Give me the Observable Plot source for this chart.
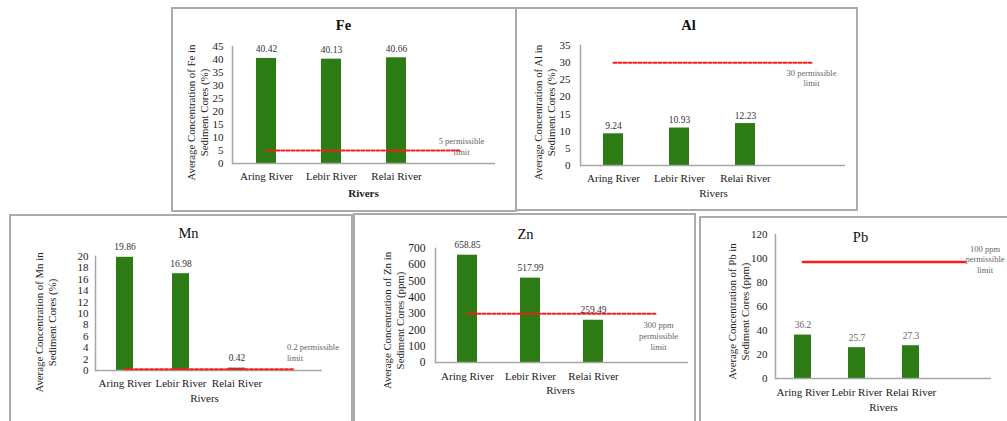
<!DOCTYPE html>
<html><head><meta charset="utf-8">
<script src="https://cdn.jsdelivr.net/npm/d3@7"></script>
<script src="https://cdn.jsdelivr.net/npm/@observablehq/plot@0.6"></script>
<style>
html,body{margin:0;padding:0;background:#fff;}
#page{position:relative;width:1007px;height:421px;overflow:hidden;font-family:"Liberation Serif","Times New Roman",serif;}
.box{position:absolute;box-sizing:border-box;border:2px solid #ababab;}
.chart{position:absolute;}
.chart svg{display:block;overflow:visible;font-family:"Liberation Serif","Times New Roman",serif !important;}
.chart svg text{font-family:"Liberation Serif","Times New Roman",serif !important;}
</style></head><body><div id="page"></div>
<script>
// ---- data ----
const rivers = ["Aring River", "Lebir River", "Relai River"];
const categories = [...rivers, ""];
const metals = ["Fe", "Al", "Mn", "Zn", "Pb"];
const feValues = [40.42, 40.13, 40.66];
const alValues = [9.24, 10.93, 12.23];
const mnValues = [19.86, 16.98, 0.42];
const znValues = [658.85, 517.99, 259.49];
const pbValues = [36.2, 25.7, 27.3];
const limitValues = [5, 30, 0.2, 300, 97];
const limitLabels = ["5 permissible\nlimit", "30 permissible\nlimit", "0.2 permissible\nlimit", "300 ppm\npermissible\nlimit", "100 ppm\npermissible\nlimit"];
const yLabels = [
  "Average Concentration of Fe in\nSediment Cores (%)",
  "Average Concentration of Al in\nSediment Cores (%)",
  "Average Concentration of Mn in\nSediment Cores (%)",
  "Average Concentration of Zn in\nSediment Cores (ppm)",
  "Average Concentration of Pb in\nSediment Cores (ppm)"
];
const xLabel = "Rivers";
const feTicks = [0, 5, 10, 15, 20, 25, 30, 35, 40, 45];
const alTicks = [0, 5, 10, 15, 20, 25, 30, 35];
const mnTicks = [0, 2, 4, 6, 8, 10, 12, 14, 16, 18, 20];
const znTicks = [0, 100, 200, 300, 400, 500, 600, 700];
const pbTicks = [0, 20, 40, 60, 80, 100, 120];

// ---- layout (positions / styles only) ----
const layouts = [
  {values: feValues, ticks: feTicks, left: 171, top: 7, w: 344, h: 204, mL: 61, mR: 20, mT: 39, mB: 48,
   title: [172, 18], titleBold: true, ylab: [25.5, 105], xlab: [192, 186], xlabBold: true,
   yPad: 9, yFs: 11, xPad: 9, valDy: -9, valFill: "#333",
   limAnchor: "middle", limDx: 0, limDy: -4.5, limLH: 1.25, dash: "3,2", limW: 2},
  {values: alValues, ticks: alTicks, left: 516, top: 7, w: 341, h: 203, mL: 64, mR: 12, mT: 38, mB: 45,
   title: [172, 18], titleBold: true, ylab: [27.5, 105], xlab: [197, 186], xlabBold: false,
   yPad: 10, yFs: 11, xPad: 9, valDy: -8, valFill: "#333",
   limAnchor: "middle", limDx: 0, limDy: 15.5, limLH: 1.1, dash: "3,2", limW: 2},
  {values: mnValues, ticks: mnTicks, left: 9, top: 214, w: 343, h: 207, mL: 86, mR: 30, mT: 42, mB: 51,
   title: [179, 19], titleBold: false, ylab: [35.5, 108], xlab: [195, 184], xlabBold: false,
   yPad: 7, yFs: 11, xPad: 9, valDy: -10, valFill: "#333",
   limAnchor: "start", limDx: -6, limDy: -17.5, limLH: 1.25, dash: "3,2", limW: 2},
  {values: znValues, ticks: znTicks, left: 353, top: 214, w: 342, h: 207, mL: 82, mR: 7, mT: 34, mB: 59,
   title: [172, 20], titleBold: false, ylab: [40, 106], xlab: [207, 176], xlabBold: false,
   yPad: 10, yFs: 11.5, xPad: 10, valDy: -10, valFill: "#333",
   limAnchor: "middle", limDx: 2, limDy: 22, limLH: 1.25, dash: "3,2", limW: 2},
  {values: pbValues, ticks: pbTicks, left: 699, top: 216, w: 308, h: 205, mL: 76, mR: 16, mT: 18, mB: 43,
   title: [161, 21], titleBold: false, ylab: [39, 95], xlab: [184, 191], xlabBold: false,
   yPad: 8, yFs: 11, xPad: 10, valDy: -10, valFill: "#666",
   limAnchor: "middle", limDx: 20, limDy: -3, limLH: 1.2, dash: null, limW: 2.5}
];
const boxes = [
  [171, 7, 346, 205], [515, 7, 343, 204], [9, 214, 344, 220], [353, 213, 343, 220], [699, 216, 330, 220]
];

const green = "#2c7b14";
const axisColor = "#a6a6a6";
const serif = "'Liberation Serif', 'Times New Roman', serif";
const page = document.getElementById("page");

boxes.forEach(([l, t, w, h]) => {
  const b = document.createElement("div");
  b.className = "box";
  Object.assign(b.style, {left: l + "px", top: t + "px", width: w + "px", height: h + "px"});
  page.appendChild(b);
});

layouts.forEach((c, k) => {
  const data = rivers.map((r, i) => ({river: r, value: c.values[i]}));
  const lineData = [{river: categories[0], value: limitValues[k]}, {river: categories[3], value: limitValues[k]}];
  const at = (txt, px, py, o) => Plot.text([txt], {text: d => d, frameAnchor: "top-left", textAnchor: "middle", lineAnchor: "middle",
    dx: px - c.mL, dy: py - c.mT, ...o});
  const plot = Plot.plot({
    width: c.w, height: c.h,
    marginLeft: c.mL, marginRight: c.mR, marginTop: c.mT, marginBottom: c.mB,
    style: `font-family: ${serif}; background: transparent; color: #1a1a1a; overflow: visible;`,
    x: {type: "band", domain: categories, paddingInner: 0.69, paddingOuter: 0.345, axis: null},
    y: {domain: [0, c.ticks[c.ticks.length - 1]], axis: null},
    marks: [
      Plot.axisY({ticks: c.ticks, tickSize: 0, tickPadding: c.yPad, fontSize: c.yFs, label: null}),
      Plot.axisX({tickSize: 0, tickPadding: c.xPad, fontSize: 11, label: null}),
      Plot.barY(data, {x: "river", y: "value", fill: green}),
      Plot.ruleY([0], {stroke: axisColor, strokeWidth: 1.5}),
      Plot.frame({anchor: "left", stroke: axisColor, strokeWidth: 1.5}),
      Plot.line(lineData, {x: "river", y: "value", stroke: "#ff1a1a", strokeWidth: c.limW, strokeDasharray: c.dash}),
      Plot.text(data, {x: "river", y: "value", text: d => String(d.value), dy: c.valDy, fontSize: 9.5, fill: c.valFill}),
      Plot.text([limitLabels[k]], {x: () => categories[3], y: () => limitValues[k], text: d => d,
        textAnchor: c.limAnchor, dx: c.limDx, dy: c.limDy, lineHeight: c.limLH, fontSize: 8.5, fill: "#666"}),
      at(metals[k], c.title[0], c.title[1], {fontSize: 14.5, fontWeight: c.titleBold ? "bold" : "normal", fill: "#111"}),
      at(yLabels[k], c.ylab[0], c.ylab[1], {rotate: -90, fontSize: 10.8, lineHeight: 1.2, fill: "#222"}),
      at(xLabel, c.xlab[0], c.xlab[1], {fontSize: 11, fontWeight: c.xlabBold ? "bold" : "normal", fill: "#222"})
    ]
  });
  const holder = document.createElement("div");
  holder.className = "chart";
  Object.assign(holder.style, {left: c.left + "px", top: c.top + "px"});
  holder.appendChild(plot);
  page.appendChild(holder);
});
</script>
</body></html>
